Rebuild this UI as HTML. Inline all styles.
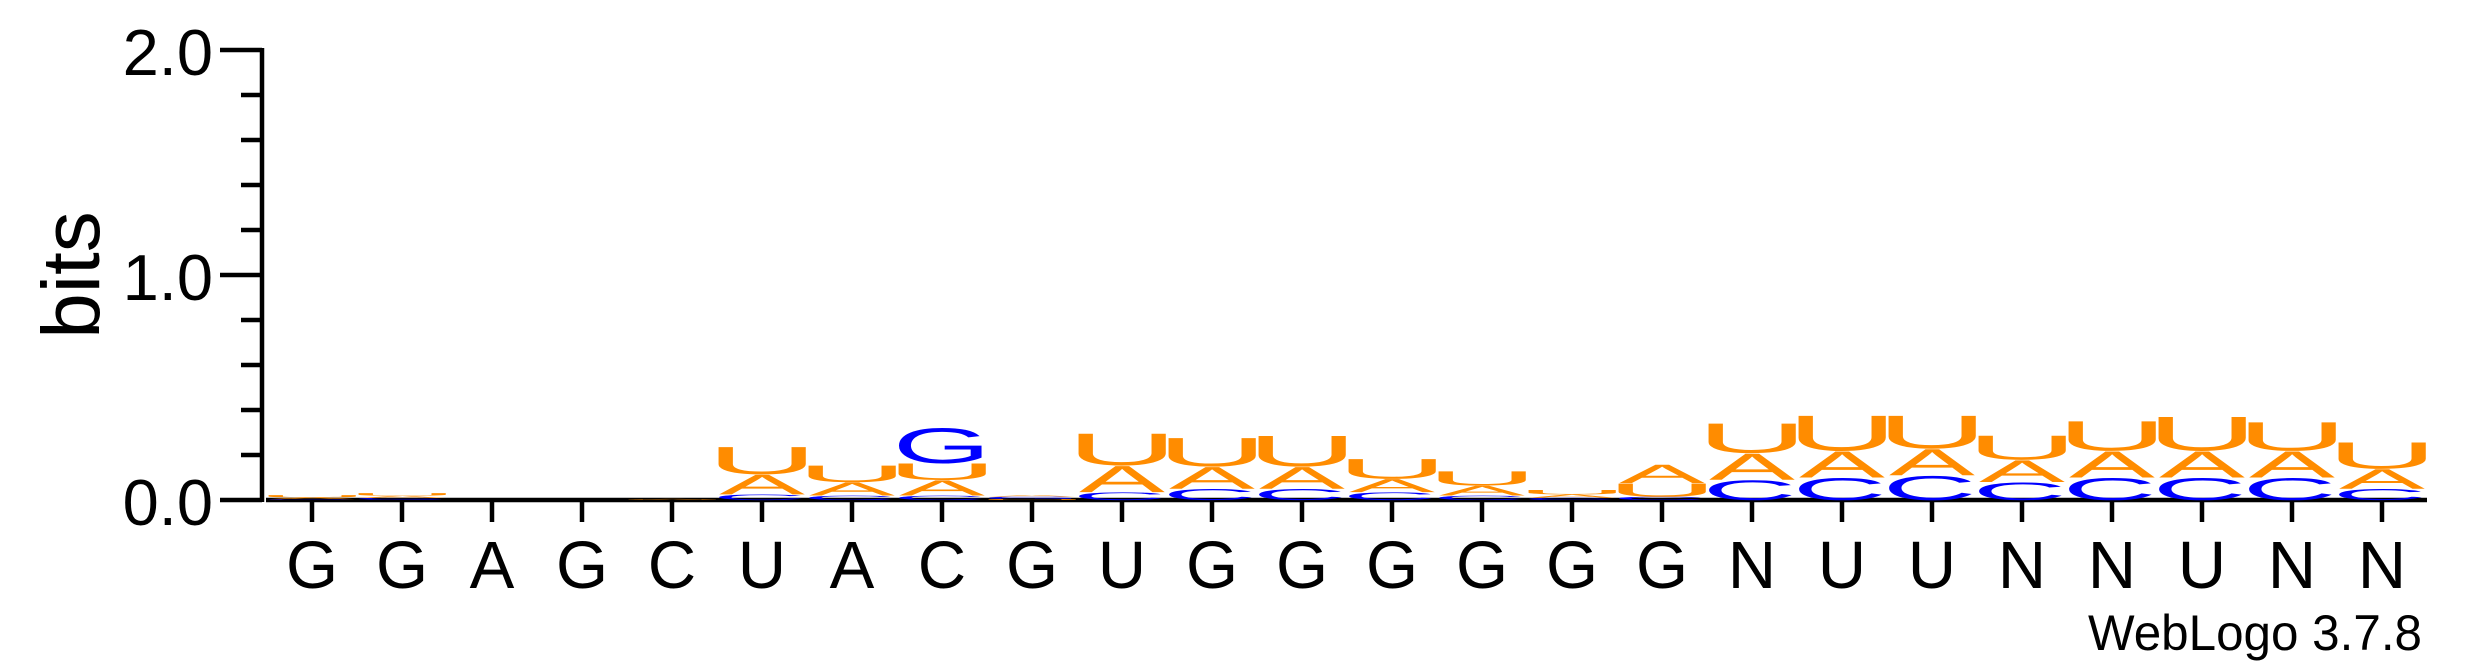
<!DOCTYPE html>
<html><head><meta charset="utf-8"><style>
html,body{margin:0;padding:0;background:#fff;}
svg{display:block;}
text{font-family:"Liberation Sans",Arial,sans-serif;}
</style></head><body>
<svg id="logo" width="2475" height="667" viewBox="0 0 2475 667" xmlns="http://www.w3.org/2000/svg">
<g id="yaxis"></g>
<g id="xaxis"></g>
<g id="stacks"></g>
<text transform="translate(99,275) rotate(-90)" text-anchor="middle" font-size="82">bits</text>
<text x="2088" y="650" font-size="50" textLength="334" lengthAdjust="spacingAndGlyphs">WebLogo 3.7.8</text>
</svg>
<script>
// Data
const positions = ["G","G","A","G","C","U","A","C","G","U","G","G","G","G","G","G","N","U","U","N","N","U","N","N"];
const letterC = [0.004,0.006,0,0,0,0.025,0.02,0.02,0.006,0.035,0.05,0.05,0.035,0.02,0.01,0.015,0.09,0.1,0.11,0.08,0.1,0.1,0.1,0.05];
const letterG = [0,0.003,0,0,0,0,0,0.16,0.005,0,0,0,0,0,0,0,0,0,0,0,0,0,0,0];
const letterA = [0.008,0.01,0,0,0.003,0.09,0.06,0.07,0.007,0.12,0.1,0.1,0.06,0.045,0.015,0.085,0.12,0.12,0.12,0.1,0.12,0.12,0.12,0.09];
const letterU = [0.01,0.012,0,0,0.002,0.125,0.076,0.075,0.004,0.145,0.13,0.14,0.09,0.065,0.02,0.06,0.135,0.16,0.15,0.11,0.135,0.155,0.13,0.12];
const yTickValues = [0,0.2,0.4,0.6,0.8,1.0,1.2,1.4,1.6,1.8,2.0];
const yTickLabels = ["0.0","1.0","2.0"];
const yTickLabelValues = [0,1,2];

const NS="http://www.w3.org/2000/svg";
const X0=312, PITCH=90, BOXW=86;
function xc(i){return X0+i*PITCH;}
function yb(b){return 500-225*b;}
function mk(tag,attrs,parent){const e=document.createElementNS(NS,tag);for(const k in attrs)e.setAttribute(k,attrs[k]);parent.appendChild(e);return e;}

const ya=document.getElementById('yaxis');
let l=mk('line',{x1:262,y1:yb(2)-2,x2:262,y2:502,stroke:'#000','stroke-width':4.5},ya);


yTickValues.forEach(v=>{
  const major=Math.abs(v-Math.round(v))<1e-6;
  const t=mk('line',{x1:major?220:241,y1:yb(v),x2:262,y2:yb(v),stroke:'#000','stroke-width':4.5},ya);
  
  
});
yTickLabelValues.forEach((v,i)=>{
  const t=mk('text',{x:213,y:yb(v)+25,'text-anchor':'end','font-size':65},ya);
  t.textContent=yTickLabels[i];
  
  
});

const xa=document.getElementById('xaxis');
l=mk('line',{x1:266,y1:500,x2:2427,y2:500,stroke:'#000','stroke-width':4.5},xa);


positions.forEach((p,i)=>{
  const t=mk('line',{x1:xc(i),y1:500,x2:xc(i),y2:522,stroke:'#000','stroke-width':4.5},xa);
  
  
  const tx=mk('text',{x:xc(i),y:588,'text-anchor':'middle','font-size':67},xa);
  tx.textContent=p;
  
  
});

const ink={A:[0,66.7],C:[5,71],G:[5,73],U:[8,64]};
const colors={A:'#ff8c00',U:'#ff8c00',C:'#0000ff',G:'#0000ff'};
const st=document.getElementById('stacks');
positions.forEach((p,i)=>{
  const items=[['C',letterC[i]],['G',letterG[i]],['A',letterA[i]],['U',letterU[i]]].filter(d=>d[1]>0);
  items.sort((a,b)=>a[1]-b[1]);
  let base=0;
  items.forEach(([L,h])=>{
    const y0=yb(base), hpx=225*h;
    const [a,b]=ink[L];
    const sx=BOXW/(b-a), sy=hpx/71.6;
    const t=mk('text',{'font-size':100,fill:colors[L],
      transform:`translate(${xc(i)-BOXW/2},${y0}) scale(${sx},${sy}) translate(${-a},0)`},st);
    t.textContent=L;
    
    
    base+=h;
  });
});
</script>
</body></html>
